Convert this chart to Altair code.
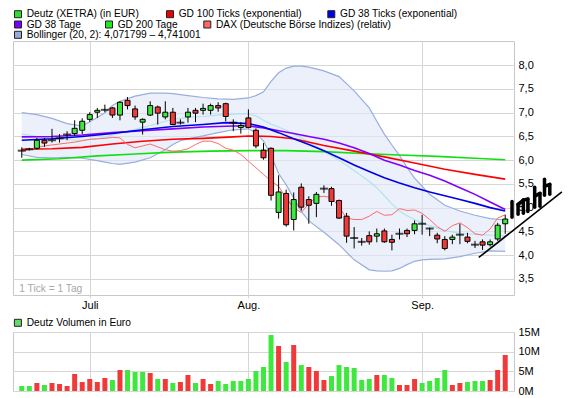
import altair as alt
import pandas as pd

FONT = "Liberation Sans"
GRID = "#d6d6d6"

# ---------------- price data (trading days 0..64, 20 Jun - 16 Sep) ----------------
day = list(range(65))
opens = [6.20, 6.23, 6.25, 6.42, 6.42, 6.46, 6.54, 6.56, 6.63, 6.86,
         7.01, 7.06, 7.10, 6.95, 7.26, 7.08, 6.80, 6.95, 7.12, 6.91,
         7.01, 6.79, 6.91, 7.05, 7.05, 7.05, 7.15, 7.19, 6.79, 6.69,
         6.89, 6.63, 6.21, 6.25, 4.90, 5.30, 4.75, 5.43, 5.17, 5.09,
         5.40, 5.40, 5.15, 4.82, 4.36, 4.28, 4.41, 4.40, 4.51, 4.33,
         4.45, 4.52, 4.52, 4.66, 4.56, 4.42, 4.33, 4.33, 4.43, 4.38,
         4.22, 4.28, 4.22, 4.34, 4.66]
closes = [6.20, 6.23, 6.42, 6.36, 6.42, 6.46, 6.54, 6.67, 6.82, 6.96,
          7.05, 7.06, 6.95, 7.22, 7.15, 6.91, 6.86, 7.15, 6.99, 7.01,
          6.75, 6.79, 7.01, 6.99, 7.09, 7.15, 7.10, 6.92, 6.79, 6.73,
          6.69, 6.30, 6.05, 5.26, 5.33, 4.64, 5.17, 5.01, 5.05, 5.28,
          5.40, 5.13, 4.78, 4.40, 4.36, 4.28, 4.28, 4.45, 4.28, 4.27,
          4.45, 4.45, 4.66, 4.66, 4.56, 4.34, 4.14, 4.38, 4.43, 4.29,
          4.22, 4.21, 4.28, 4.63, 4.76]
highs = [6.27, 6.26, 6.47, 6.47, 6.66, 6.55, 6.61, 6.84, 6.88, 7.01,
         7.10, 7.17, 7.12, 7.24, 7.33, 7.15, 6.88, 7.24, 7.15, 7.24,
         7.10, 6.86, 7.10, 7.10, 7.19, 7.19, 7.22, 7.21, 6.86, 6.80,
         7.07, 6.67, 6.36, 6.27, 5.68, 5.38, 5.32, 5.51, 5.24, 5.33,
         5.47, 5.44, 5.17, 4.89, 4.59, 4.36, 4.50, 4.56, 4.56, 4.43,
         4.56, 4.56, 4.73, 4.85, 4.58, 4.47, 4.40, 4.43, 4.66, 4.47,
         4.30, 4.33, 4.33, 4.68, 4.85]
lows = [6.05, 6.20, 6.22, 6.28, 6.37, 6.37, 6.42, 6.51, 6.55, 6.81,
        6.89, 7.01, 6.89, 6.84, 7.07, 6.85, 6.54, 6.93, 6.75, 6.86,
        6.75, 6.75, 6.79, 6.80, 6.96, 6.96, 7.02, 6.82, 6.61, 6.56,
        6.67, 6.25, 6.01, 5.15, 4.77, 4.60, 4.52, 4.94, 4.66, 4.80,
        5.31, 5.04, 4.76, 4.26, 4.14, 4.20, 4.22, 4.27, 4.26, 4.10,
        4.33, 4.38, 4.44, 4.43, 4.40, 4.25, 4.10, 4.23, 4.23, 4.25,
        4.15, 4.11, 4.18, 4.30, 4.45]

# ---------------- volume (millions EUR) ----------------
volume_m = [1.27, 1.27, 2.04, 1.53, 2.04, 1.78, 1.27, 4.33, 2.29, 3.05,
            2.29, 3.31, 2.80, 5.34, 5.34, 4.83, 4.83, 4.58, 3.05, 3.05,
            2.04, 2.29, 4.07, 2.04, 3.05, 1.78, 2.54, 1.78, 2.54, 2.54,
            3.05, 5.09, 6.11, 14.25, 11.45, 7.38, 11.70, 6.60, 6.10, 5.10,
            2.80, 3.80, 6.60, 6.10, 5.85, 2.80, 3.05, 4.07, 4.07, 3.31,
            1.53, 1.53, 3.05, 2.04, 2.54, 3.31, 5.34, 1.53, 2.04, 2.29,
            2.54, 2.54, 2.80, 5.34, 9.16]
volume_tone = ["r", "n", "g", "r", "g", "g", "g", "g", "g", "g",
               "g", "g", "r", "g", "r", "r", "r", "g", "r", "g",
               "r", "g", "g", "r", "g", "g", "r", "r", "r", "r",
               "r", "r", "r", "r", "g", "r", "g", "r", "g", "g",
               "g", "r", "r", "r", "r", "r", "r", "g", "r", "r",
               "g", "g", "g", "r", "r", "r", "r", "g", "g", "r",
               "r", "r", "g", "g", "g"]

# ---------------- indicator lines ----------------
gd100_day = [0, 4, 8, 12, 16, 20, 24, 28, 30, 33, 36, 40, 44, 48, 52, 56, 60, 64]
gd100_val = [6.23, 6.24, 6.27, 6.34, 6.40, 6.44, 6.46, 6.49, 6.51, 6.50, 6.45, 6.31,
             6.19, 6.07, 5.94, 5.81, 5.70, 5.60]

gd38t_day = [0, 4, 8, 12, 16, 20, 24, 27, 30, 32, 34, 36, 38, 40, 42, 44, 46, 48, 50,
             52, 54, 56, 58, 60, 62, 64]
gd38t_val = [6.42, 6.45, 6.50, 6.56, 6.64, 6.71, 6.75, 6.79, 6.77, 6.70, 6.58, 6.45,
             6.33, 6.20, 6.05, 5.90, 5.76, 5.63, 5.52, 5.42, 5.33, 5.25, 5.17, 5.09,
             5.00, 4.93]

gd38_day = [0, 4, 8, 12, 16, 20, 24, 28, 30, 32, 34, 36, 38, 40, 42, 44, 46, 48, 50,
            52, 54, 56, 58, 60, 62, 64]
gd38_val = [6.49, 6.50, 6.53, 6.58, 6.62, 6.66, 6.70, 6.72, 6.72, 6.68, 6.62, 6.56,
            6.50, 6.44, 6.36, 6.26, 6.14, 6.00, 5.90, 5.78, 5.68, 5.56, 5.42, 5.28,
            5.12, 4.96]

gd200_day = [0, 5, 10, 15, 20, 25, 30, 35, 40, 45, 50, 55, 60, 64]
gd200_val = [6.00, 6.03, 6.09, 6.13, 6.17, 6.19, 6.20, 6.20, 6.18, 6.14, 6.11, 6.08,
             6.04, 6.01]

dax_val = [6.19, 6.22, 6.27, 6.30, 6.32, 6.34, 6.36, 6.38, 6.41, 6.44,
           6.45, 6.46, 6.48, 6.47, 6.33, 6.26, 6.30, 6.34, 6.28, 6.22,
           6.19, 6.20, 6.24, 6.33, 6.40, 6.40, 6.35, 6.25, 6.21, 6.12,
           5.98, 5.84, 5.70, 5.56, 5.45, 5.20, 4.99, 4.90, 5.08, 5.22,
           5.24, 5.21, 5.02, 4.78, 4.75, 4.75, 4.82, 4.92, 4.84, 4.85,
           4.98, 4.94, 4.95, 4.88, 4.75, 4.60, 4.50, 4.62, 4.68, 4.58,
           4.45, 4.42, 4.55, 4.78, 4.85]

band_day = [0, 2, 4, 6, 8, 10, 11, 12, 13, 15, 17, 19, 20, 21, 22, 24, 26, 28, 30, 31,
            32, 33, 34, 35, 36, 37, 38, 40, 42, 44, 46, 47, 48, 49, 50, 51, 52, 53, 54,
            56, 58, 60, 62, 64]
band_up = [7.00, 6.96, 6.88, 6.77, 6.72, 6.90, 7.00, 7.15, 7.24, 7.35, 7.41, 7.41,
           7.40, 7.38, 7.36, 7.32, 7.29, 7.28, 7.31, 7.36, 7.44, 7.66, 7.84, 7.94,
           7.98, 7.98, 7.96, 7.88, 7.76, 7.46, 7.10, 6.82, 6.55, 6.32, 6.10, 5.85,
           5.62, 5.45, 5.28, 5.05, 4.93, 4.84, 4.77, 4.74]
band_lo = [6.12, 6.06, 6.05, 6.06, 6.04, 5.99, 5.96, 5.93, 5.91, 5.96, 6.05, 6.22,
           6.33, 6.41, 6.45, 6.51, 6.58, 6.64, 6.66, 6.58, 6.40, 6.10, 5.72, 5.48,
           5.20, 4.92, 4.72, 4.48, 4.22, 3.90, 3.69, 3.67, 3.66, 3.67, 3.72, 3.80,
           3.87, 3.90, 3.91, 3.92, 3.97, 4.04, 4.09, 4.08]
band_mid = [6.55, 6.50, 6.47, 6.43, 6.42, 6.45, 6.48, 6.53, 6.57, 6.65, 6.73, 6.82,
            6.86, 6.88, 6.90, 6.92, 6.95, 6.97, 6.98, 6.93, 6.84, 6.76, 6.70, 6.63,
            6.55, 6.47, 6.38, 6.19, 6.00, 5.78, 5.55, 5.42, 5.25, 5.08, 4.93, 4.83,
            4.75, 4.68, 4.62, 4.52, 4.46, 4.44, 4.42, 4.41]

# hand-drawn annotation (trend line + scribble), in day / price units
trend_day = [60.5, 71.5]
trend_val = [3.95, 5.33]
scribble = [  # (day1, price1, day2, price2)
    (64.9, 5.13, 64.9, 4.80), (65.7, 5.07, 65.7, 4.86), (65.7, 5.07, 66.4, 5.16),
    (66.4, 5.16, 66.4, 4.88), (66.4, 5.16, 67.0, 5.18), (67.0, 5.18, 67.0, 4.92),
    (67.9, 5.43, 67.9, 5.01), (67.9, 5.24, 68.6, 5.30), (68.6, 5.30, 68.6, 5.03),
    (69.2, 5.60, 69.2, 5.26), (69.2, 5.45, 69.9, 5.49), (69.9, 5.49, 69.9, 5.28),
]

month_days = [9, 30, 53]
price_ticks = [3.5, 4.0, 4.5, 5.0, 5.5, 6.0, 6.5, 7.0, 7.5, 8.0]
volume_ticks = [0, 5, 10, 15]

# ---------------- tables ----------------
candles = pd.DataFrame({"i": day, "o": opens, "h": highs, "l": lows, "c": closes})
candles["kind"] = ["up" if c > o else ("down" if c < o else "doji")
                   for o, c in zip(opens, closes)]
vol = pd.DataFrame({"i": day, "v": volume_m, "t": volume_tone})
band = pd.DataFrame({"i": band_day, "u": band_up, "lo": band_lo, "m": band_mid})
one = pd.DataFrame({"a": [0]})

XS = alt.Scale(domain=[-0.5, 64.5], nice=False, zero=False)
YS = alt.Scale(domain=[3.16, 8.51], nice=False, zero=False)

x_axis_main = alt.Axis(values=month_days, title=None, grid=True, gridColor=GRID,
                       tickSize=3, tickColor=GRID, domain=False, labelFont=FONT,
                       labelFontSize=11, labelColor="black", labelPadding=1,
                       labelExpr="datum.value == 9 ? 'Juli' : datum.value == 30 ? 'Aug.' : 'Sep.'")
y_axis_main = alt.Axis(orient="right", values=price_ticks, title=None, grid=True,
                       gridColor=GRID, tickSize=0, domain=False, labelPadding=4,
                       labelFont=FONT, labelFontSize=11, labelColor="black",
                       labelExpr="replace(format(datum.value, '.1f'), '.', ',')")


def X(field="i"):
    return alt.X(f"{field}:Q", scale=XS, axis=x_axis_main)


def Y(field):
    return alt.Y(f"{field}:Q", scale=YS, axis=y_axis_main)


def series_line(days, vals, color, width):
    df = pd.DataFrame({"i": days, "p": vals})
    return alt.Chart(df).mark_line(color=color, strokeWidth=width).encode(x=X(), y=Y("p"))


def px_rect(x1, x2, y1, y2, fill, stroke=None):
    kw = dict(fill=fill, clip=False)
    if stroke:
        kw.update(stroke=stroke, strokeWidth=1)
    else:
        kw.update(strokeWidth=0)
    return alt.Chart(one).mark_rect(**kw).encode(
        x=alt.value(x1), x2=alt.value(x2), y=alt.value(y1), y2=alt.value(y2))


def px_text(txt, x, y, size=10.2, color="black", weight="normal", align="left"):
    return alt.Chart(one).mark_text(text=txt, align=align, baseline="middle", font=FONT,
                                    fontSize=size, color=color, fontWeight=weight,
                                    clip=False).encode(x=alt.value(x), y=alt.value(y))


# ---------------- main price panel ----------------
layers = []

# Bollinger band
layers.append(alt.Chart(band).mark_area(color="#dde6f6", opacity=0.6).encode(
    x=X(), y=Y("u"), y2="lo:Q"))
layers.append(alt.Chart(band).mark_line(color="#9aaedb", strokeWidth=1.2).encode(x=X(), y=Y("u")))
layers.append(alt.Chart(band).mark_line(color="#9aaedb", strokeWidth=1.2).encode(x=X(), y=Y("lo")))
layers.append(alt.Chart(band).mark_line(color="#b3e2f0", strokeWidth=1.2).encode(x=X(), y=Y("m")))

layers.append(series_line(gd200_day, gd200_val, "#10e010", 1.6))
layers.append(series_line(gd100_day, gd100_val, "#ff0000", 1.6))
layers.append(series_line(gd38_day, gd38_val, "#7f00ff", 1.6))
layers.append(series_line(gd38t_day, gd38t_val, "#0000e6", 1.6))
layers.append(series_line(day, dax_val, "#ff6b6b", 1.0))

# candles
layers.append(alt.Chart(candles).mark_rule(color="black", strokeWidth=1).encode(
    x=X(), y=Y("l"), y2="h:Q"))
layers.append(alt.Chart(candles).transform_filter("datum.kind != 'doji'").mark_bar(
    size=5, stroke="black", strokeWidth=1).encode(
    x=X(), y=Y("o"), y2="c:Q",
    color=alt.Color("kind:N", scale=alt.Scale(domain=["up", "down"],
                                              range=["#3ee83e", "#f03a3a"]), legend=None)))
layers.append(alt.Chart(candles).transform_filter("datum.kind == 'doji'").mark_tick(
    orient="horizontal", size=8, thickness=2, color="black").encode(x=X(), y=Y("c")))

# hand drawn annotation
trend = pd.DataFrame({"i": [trend_day[0]], "p": [trend_val[0]],
                      "i2": [trend_day[1]], "p2": [trend_val[1]]})
layers.append(alt.Chart(trend).mark_rule(color="black", strokeWidth=1.6, clip=False).encode(
    x=X(), y=Y("p"), x2="i2:Q", y2="p2:Q"))
scr = pd.DataFrame(scribble, columns=["i", "p", "i2", "p2"])
layers.append(alt.Chart(scr).mark_rule(color="black", strokeWidth=3.5, strokeCap="round",
                                       clip=False).encode(
    x=X(), y=Y("p"), x2="i2:Q", y2="p2:Q"))

# legend above the chart
legend_items = [
    (1.5, -26.8, "#2fdc2f", "Deutz (XETRA) (in EUR)"),
    (153.5, -26.8, "#ee0000", "GD 100 Ticks (exponential)"),
    (314.8, -26.8, "#0000ee", "GD 38 Ticks (exponential)"),
    (1.5, -16.5, "#7700ff", "GD 38 Tage"),
    (92.5, -16.5, "#22e822", "GD 200 Tage"),
    (190.8, -16.5, "#ff6666", "DAX (Deutsche Börse Indizes) (relativ)"),
    (1.5, -6.2, "#98a9da", "Bollinger (20, 2): 4,071799 – 4,741001"),
]
for lx, ly, col, label in legend_items:
    layers.append(px_rect(lx, lx + 7, ly - 3.5, ly + 3.5, col, stroke="#222222"))
    layers.append(px_text(label, lx + 12.2, ly))

layers.append(px_text("1 Tick = 1 Tag", 6.3, 248.3, color="#a8a8a8"))

main = alt.layer(*layers).properties(width=501, height=254)

# ---------------- volume panel ----------------
x_axis_vol = alt.Axis(values=month_days, title=None, grid=True, gridColor=GRID,
                      tickSize=0, domain=False, labels=False)
y_axis_vol = alt.Axis(orient="right", values=volume_ticks, title=None, grid=True,
                      gridColor=GRID, tickSize=0, domain=False, labelPadding=4,
                      labelFont=FONT, labelFontSize=11, labelColor="black",
                      labelExpr="format(datum.value, 'd') + 'M'")
vbars = alt.Chart(vol).mark_bar(size=5).encode(
    x=alt.X("i:Q", scale=XS, axis=x_axis_vol),
    y=alt.Y("v:Q", scale=alt.Scale(domain=[0, 15], nice=False, zero=True), axis=y_axis_vol,
            stack=None),
    color=alt.Color("t:N", scale=alt.Scale(domain=["r", "g", "n"],
                                           range=["#e06a6a", "#66da66", "#c4c4c4"]),
                    legend=None))
vol_legend = [
    px_rect(1.4, 8.4, -12.7, -5.7, "#66da66", stroke="#222222"),
    px_text("Deutz Volumen in Euro", 13.7, -9.3),
]
volume = alt.layer(vbars, *vol_legend).properties(width=501, height=59)

chart = alt.vconcat(main, volume, spacing=37, bounds="flush").properties(
    padding={"left": 4, "top": 0, "right": 0, "bottom": 0},
    background="white",
).configure_view(stroke="#c8c8c8", strokeWidth=1)

chart.save("out.html", embed_options={"renderer": "svg", "actions": False})
